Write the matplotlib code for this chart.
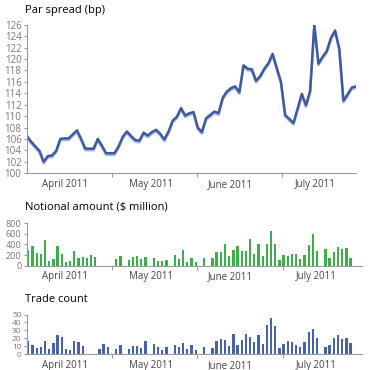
import numpy as np
import matplotlib
matplotlib.use("Agg")
import matplotlib.pyplot as plt
import matplotlib.patheffects as pe

plt.rcParams['font.family'] = ['Open Sans', 'DejaVu Sans']

# ================= data =================

# par spread, one value per trading day (index 0 = 1 April 2011)
spread = [106.5, 105.5, 104.7, 103.9, 102.0, 103.0, 103.1, 103.9, 106.0, 106.1,
          106.1, 106.8, 107.5, 106.0, 104.3, 104.3, 104.3, 106.0, 104.8, 103.5,
          103.5, 103.5, 104.7, 106.4, 107.3, 106.5, 105.8, 105.7, 107.1, 106.6,
          107.2, 107.6, 106.9, 105.9, 107.3, 109.2, 109.9, 111.4, 110.1, 110.5,
          110.7, 108.0, 107.2, 109.6, 110.2, 110.8, 110.5, 113.2, 114.3, 114.9,
          115.2, 114.2, 118.9, 118.3, 118.2, 116.2, 117.0, 118.3, 119.3, 120.9,
          118.4, 116.0, 110.2, 109.5, 108.8, 111.3, 113.9, 111.9, 114.4, 126.0,
          119.2, 120.4, 121.4, 123.7, 125.0, 121.8, 112.7, 113.8, 115.0, 115.2]

notional_days = [0, 1, 2, 3, 4, 5, 6, 7, 8, 9, 10, 11, 12, 13, 14, 15, 16,
                 21, 22, 24, 25, 26, 27, 28, 30, 31, 32, 33, 35, 36, 37, 38, 39, 40,
                 42, 44, 45, 46, 47, 48, 49, 50, 51, 52, 53, 54, 55, 56, 57, 58, 59,
                 60, 61, 62, 63, 64, 65, 66, 67, 68, 69, 71, 72, 73, 74, 75, 76, 77]
notional = [290, 365, 230, 215, 485, 80, 122, 370, 215, 68, 82, 272, 140, 157, 148, 207, 172,
            125, 175, 100, 165, 180, 130, 170, 150, 90, 90, 105, 200, 130, 295, 70, 135, 70,
            135, 150, 250, 258, 415, 183, 296, 372, 283, 283, 504, 220, 416, 183, 409, 643, 416,
            101, 195, 176, 214, 214, 126, 195, 391, 592, 271, 309, 151, 265, 353, 321, 328, 151]

count_days = [0, 1, 2, 3, 4, 5, 6, 7, 8, 9, 10, 11, 12, 13, 17, 18, 19,
              21, 22, 24, 25, 26, 27, 28, 30, 31, 32, 33, 35, 36, 37, 38, 39, 40,
              42, 44, 45, 46, 47, 48, 49, 50, 51, 52, 53, 54, 55, 56, 57, 58, 59,
              60, 61, 62, 63, 64, 65, 66, 67, 68, 69, 71, 72, 73, 74, 75, 76, 77]
trades = [17, 12, 8, 9, 16, 6, 14, 24, 21, 7, 5, 17, 15, 10, 7, 13, 9,
          7, 12, 6, 10, 10, 8, 16, 13, 9, 5, 9, 11, 9, 14, 6, 12, 5,
          9, 8, 16, 19, 18, 10, 25, 12, 18, 25, 22, 15, 24, 13, 37, 45, 35,
          8, 13, 16, 15, 11, 9, 15, 28, 32, 20, 9, 12, 20, 24, 19, 20, 14]

month_labels = ['April 2011', 'May 2011', 'June 2011', 'July 2011']
month_label_pos = [9.2, 29.9, 48.8, 69.2]
month_edges = [20.5, 40.75, 61.35]

LINE_C = '#3f5a9c'
GREEN = '#3cae4a'
BLUE = '#4862a8'
GREY = '#777777'

# ================= drawing =================

def style_axis(ax, xlim, ysize=7):
    for s in ['top', 'right']:
        ax.spines[s].set_visible(False)
    for s in ['left', 'bottom']:
        ax.spines[s].set_color('#9a9a9a')
        ax.spines[s].set_linewidth(0.8)
    ax.set_xlim(*xlim)
    ax.set_xticks(month_edges)
    ax.set_xticklabels([])
    ax.set_xticks(month_label_pos, minor=True)
    ax.set_xticklabels(month_labels, minor=True)
    ax.tick_params(axis='x', which='major', length=3, color='#9a9a9a')
    ax.tick_params(axis='x', which='minor', length=0, pad=4, labelsize=7, labelcolor='#444444')
    ax.tick_params(axis='y', length=2.5, color='#9a9a9a', labelsize=ysize, labelcolor=GREY, pad=1.5)


fig = plt.figure(figsize=(3.7, 3.7), dpi=100)

# Par spread
ax1 = fig.add_axes([0.073, 0.532, 0.889, 0.401])
x = np.arange(len(spread))
ax1.plot(x, spread, color=LINE_C, linewidth=1.8, solid_joinstyle='round',
         path_effects=[pe.SimpleLineShadow(offset=(0, -1.2), shadow_color='#9fb2dc', alpha=0.9),
                       pe.Normal()])
ax1.set_ylim(100, 126)
ax1.set_yticks(np.arange(100, 127, 2))
style_axis(ax1, (0, 79))
fig.text(0.068, 0.972, 'Par spread (bp)', fontsize=8, va='center', ha='left')

# Notional amount
ax2 = fig.add_axes([0.073, 0.282, 0.905, 0.115])
ax2.bar(np.array(notional_days) + 0.5, notional, width=0.55, color=GREEN)
ax2.set_ylim(0, 800)
ax2.set_yticks(np.arange(0, 801, 200))
style_axis(ax2, (0.19, 80.2), ysize=6.5)
fig.text(0.068, 0.441, 'Notional amount ($ million)', fontsize=8, va='center', ha='left')

# Trade count
ax3 = fig.add_axes([0.073, 0.043, 0.905, 0.107])
ax3.bar(np.array(count_days) + 0.5, trades, width=0.55, color=BLUE)
ax3.set_ylim(0, 50)
ax3.set_yticks(np.arange(0, 51, 10))
style_axis(ax3, (0.19, 80.2), ysize=6)
fig.text(0.068, 0.19, 'Trade count', fontsize=8, va='center', ha='left')

fig.savefig('out.png', dpi=100)
